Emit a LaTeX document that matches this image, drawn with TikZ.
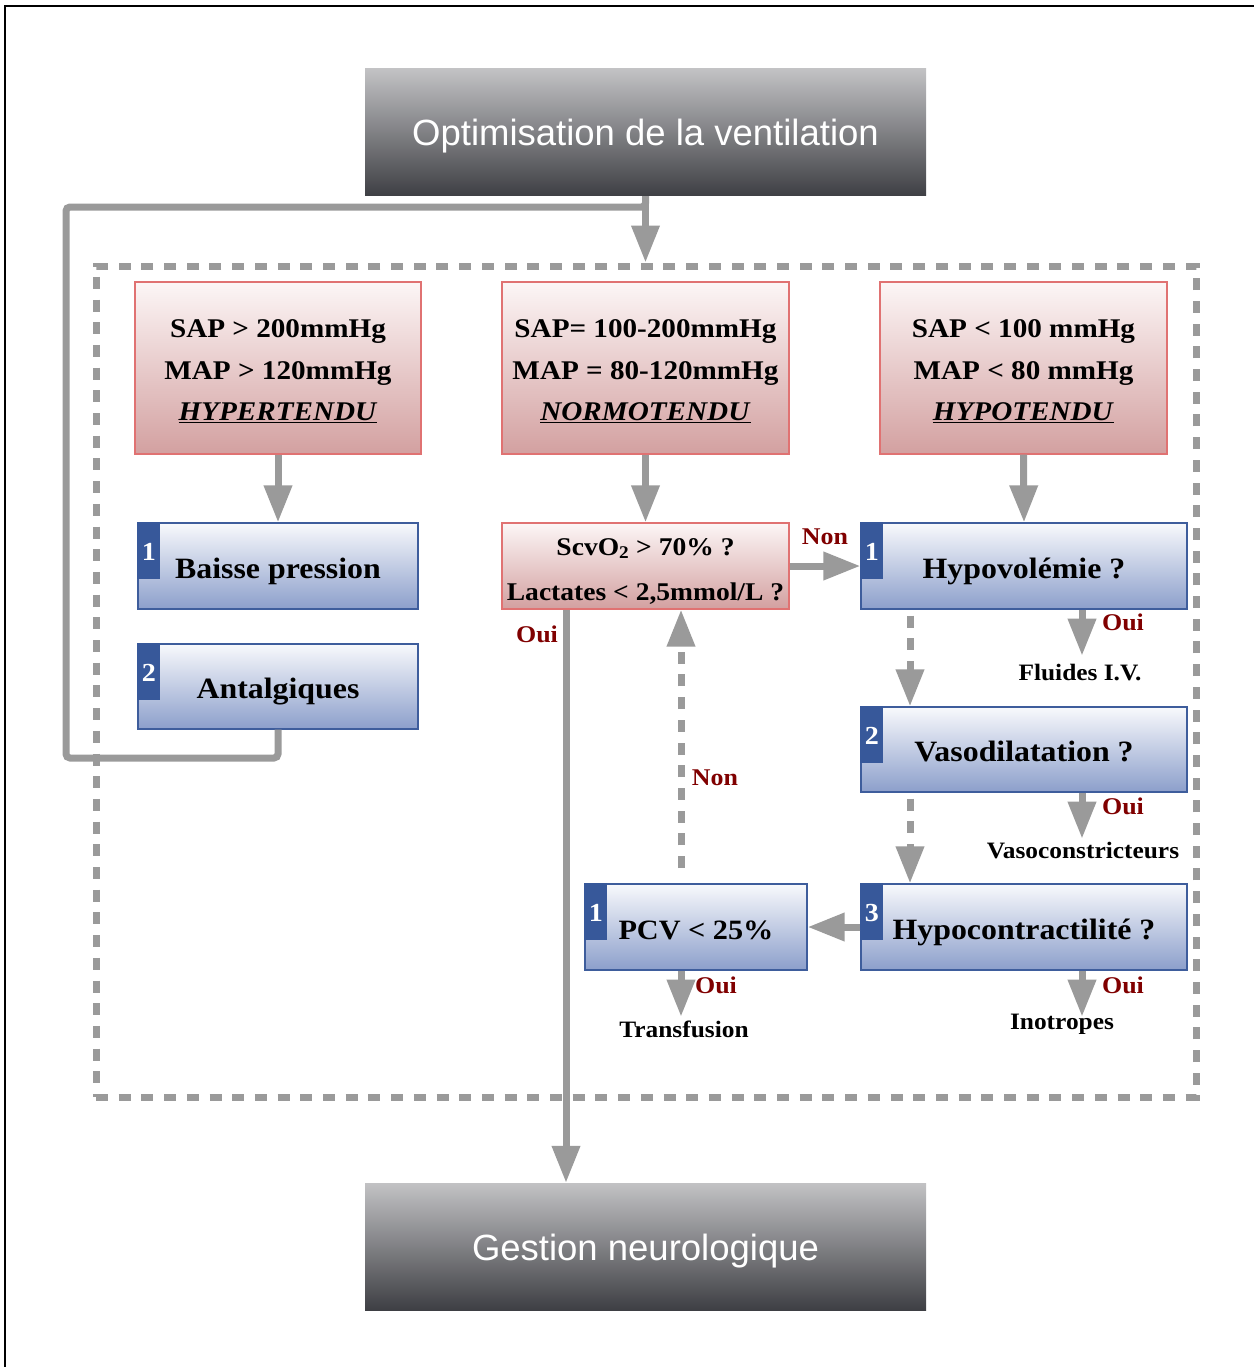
\documentclass[tikz,border=0pt]{standalone}
\usepackage{fontspec}
\setmainfont[FakeStretch=1.08]{Liberation Serif}
\newfontfamily\headfont{Liberation Sans}
\usetikzlibrary{arrows.meta}

\definecolor{conngray}{HTML}{9A9A9A}
\definecolor{redborder}{HTML}{E07272}
\definecolor{redlow}{HTML}{D3A0A0}
\definecolor{redtop}{HTML}{FCF6F6}
\definecolor{bluetop}{HTML}{F8F9FC}
\definecolor{bluelow}{HTML}{8C9FCB}
\definecolor{blueborder}{HTML}{3E5D9C}
\definecolor{tabblue}{HTML}{37589A}
\definecolor{darkred}{HTML}{800000}
\definecolor{headtop}{HTML}{C2C2C4}
\definecolor{headlow}{HTML}{3E3F44}

\tikzset{
  headbox/.style={rectangle, minimum width=561pt, minimum height=127pt,
    top color=headtop, bottom color=headlow, text=white, inner sep=0pt,
    text height=27pt, text depth=0pt,
    font=\headfont\fontsize{36.5}{42}\selectfont},
  redbox/.style={rectangle, draw=redborder, line width=1.3pt, top color=redtop,
    bottom color=redlow, align=center, inner sep=0pt,
    font=\bfseries\fontsize{27}{41.5}\selectfont},
  bluebox/.style={rectangle, draw=blueborder, line width=1.3pt, top color=bluetop,
    bottom color=bluelow, inner sep=0pt, text height=24pt, text depth=0pt,
    font=\bfseries\fontsize{29.5}{34}\selectfont},
  conn/.style={draw=conngray, line width=7pt},
  tip/.style={-{Triangle[width=27pt,length=37pt]}},
  dashline/.style={dash pattern=on 12pt off 10.7pt},
  lbl/.style={text=darkred, inner sep=0pt, font=\bfseries\fontsize{24}{28}\selectfont},
  act/.style={inner sep=0pt, font=\bfseries\fontsize{23.5}{28}\selectfont},
  num/.style={text=white, inner sep=0pt, font=\bfseries\fontsize{26}{30}\selectfont},
}

% blue number tab in the upper left corner of a step
\newcommand{\numtab}[2]{%
  \fill[tabblue] (#1.north west) rectangle ++(23,57);
  \node[num] (#1-num) at ([xshift=11.5pt,yshift=-30pt]#1.north west) {#2};}
% invisible strut that lowers the first line of a box
\newcommand{\topstrut}[1]{\rule{0pt}{#1}}

\begin{document}
\begin{tikzpicture}[x=1pt,y=-1pt]
\useasboundingbox (0,0) rectangle (1254,1367);
\draw[line width=1.5pt] (5,1367) -- (5,6) -- (1254,6);

% dashed region holding the three haemodynamic branches
\node[rectangle, draw=conngray, line width=7pt, dashline,
      minimum width=1100pt, minimum height=831pt] (zone) at (646,681.5) {};

% start and end steps
\node[headbox] (top) at (645.5,132.5) {Optimisation de la ventilation};
\node[headbox] (gest) at (645.5,1246.5) {Gestion neurologique};

% pressure categories
\node[redbox, minimum width=286pt, minimum height=172pt] (hyper) at (278,368)
  {\topstrut{25pt}SAP > 200mmHg\\MAP > 120mmHg\\\underline{\textit{HYPERTENDU}}};
\node[redbox, minimum width=287pt, minimum height=172pt] (normo) at (645.5,368)
  {\topstrut{25pt}SAP= 100-200mmHg\\MAP = 80-120mmHg\\\underline{\textit{NORMOTENDU}}};
\node[redbox, minimum width=287pt, minimum height=172pt] (hypo) at (1023.5,368)
  {\topstrut{25pt}SAP < 100 mmHg\\MAP < 80 mmHg\\\underline{\textit{HYPOTENDU}}};

% treatment steps
\node[bluebox, minimum width=280pt, minimum height=86pt] (baisse) at (278,566) {Baisse pression};
\node[bluebox, minimum width=280pt, minimum height=85pt] (antal) at (278,686.5) {Antalgiques};
\node[redbox, minimum width=287pt, minimum height=86pt,
      font=\bfseries\fontsize{25.5}{45}\selectfont] (scv) at (645.5,566)
  {\topstrut{27pt}ScvO\textsubscript{2} > 70\% ?\\Lactates < 2,5mmol/L ?};
\node[bluebox, minimum width=326pt, minimum height=86pt] (hvol) at (1024,566) {Hypovolémie ?};
\node[bluebox, minimum width=326pt, minimum height=85pt] (vaso) at (1024,749.5) {Vasodilatation ?};
\node[bluebox, minimum width=326pt, minimum height=86pt] (hcon) at (1024,927) {Hypocontractilité ?};
\node[bluebox, minimum width=222pt, minimum height=86pt,
      font=\bfseries\fontsize{28}{34}\selectfont] (pcv) at (696,927) {PCV < 25\%};

\numtab{baisse}{1}
\numtab{antal}{2}
\numtab{hvol}{1}
\numtab{vaso}{2}
\numtab{hcon}{3}
\numtab{pcv}{1}

% loop back from the hypertensive branch to ventilation
\draw[conn, rounded corners=4pt] (top.south) |- (66,207) -- (66,758) -| (antal.south);
\draw[conn, tip] (top.south) -- (top.south |- zone.north);

% branch arrows
\draw[conn, tip] (hyper.south) -- (baisse.north);
\draw[conn, tip] (normo.south) -- (scv.north);
\draw[conn, tip] (hypo.south) -- (hvol.north);
\draw[conn, tip] (scv.east) -- (hvol.west);
\coordinate (scvout) at ([xshift=-79.5pt]scv.south);
\draw[conn, tip] (scvout) -- (scvout |- gest.north);
\coordinate (pcvback) at (681,868);
\draw[conn, dashline, tip] (pcvback) -- (pcvback |- scv.south);
\draw[conn, dashline, tip] ([xshift=-114pt,yshift=-6pt]hvol.south) -- ([xshift=-114pt]vaso.north);
\draw[conn, dashline, tip] ([xshift=-114pt,yshift=-6pt]vaso.south) -- ([xshift=-114pt]hcon.north);
\draw[conn, tip] (hcon.west) -- (pcv.east);
\draw[conn, tip] ([xshift=58pt]hvol.south) -- ++(0,46);
\draw[conn, tip] ([xshift=58pt]vaso.south) -- ++(0,46);
\draw[conn, tip] ([xshift=58pt]hcon.south) -- ++(0,46);
\draw[conn, tip] ([xshift=-15pt]pcv.south) -- ++(0,46);

% answers
\node[lbl] (l1) at (825,537) {Non};
\node[lbl] (l2) at (537,634) {Oui};
\node[lbl] (l3) at (715,778) {Non};
\node[lbl] (l4) at (1123,622) {Oui};
\node[lbl] (l5) at (1123,806) {Oui};
\node[lbl] (l6) at (716,985) {Oui};
\node[lbl] (l7) at (1123,985) {Oui};

% actions
\node[act] (a1) at (1080,673) {Fluides I.V.};
\node[act] (a2) at (1083,851) {Vasoconstricteurs};
\node[act] (a3) at (684,1029) {Transfusion};
\node[act] (a4) at (1062,1024) {Inotropes};
\end{tikzpicture}
\end{document}
